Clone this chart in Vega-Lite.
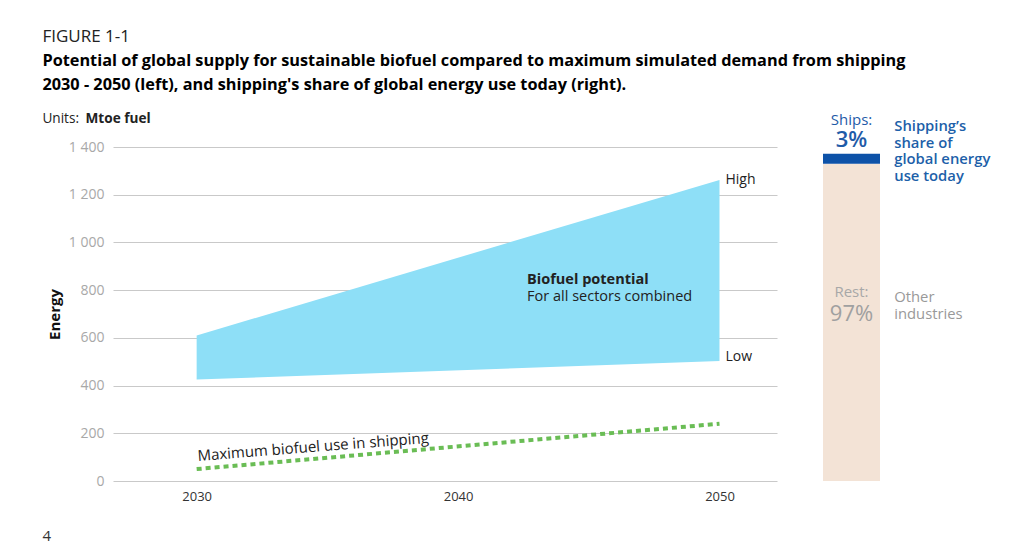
{
  "$schema": "https://vega.github.io/schema/vega-lite/v6.json",
  "padding": {"left": 42, "top": 27, "right": 5, "bottom": 5},
  "background": "white",
  "config": {"font": "Open Sans", "view": {"stroke": null}, "concat": {"spacing": 46}},
  "title": {
    "text": "FIGURE 1-1",
    "subtitle": ["Potential of global supply for sustainable biofuel compared to maximum simulated demand from shipping", "2030 - 2050 (left), and shipping's share of global energy use today (right)."],
    "anchor": "start", "frame": "bounds",
    "fontSize": 17, "fontWeight": "normal", "color": "#222",
    "subtitleFontSize": 16.3, "subtitleFontWeight": "bold", "subtitleColor": "#000",
    "subtitleLineHeight": 24, "subtitlePadding": 7, "offset": 18
  },
  "hconcat": [
    {
      "width": 664, "height": 334,
      "layer": [
        {
          "data": {"values": [{"year": 2030, "low": 425, "high": 610}, {"year": 2050, "low": 503, "high": 1262}]},
          "mark": {"type": "area", "color": "#8edff7", "opacity": 1},
          "encoding": {
            "x": {"field": "year", "type": "quantitative", "scale": {"domain": [2026.8, 2052.2], "nice": false, "zero": false},
              "axis": {"title": null, "values": [2030, 2040, 2050], "format": "d", "labelFontSize": 13, "labelColor": "#333", "labelPadding": 9, "ticks": false, "domain": false, "grid": false}},
            "y": {"field": "high", "type": "quantitative", "scale": {"domain": [0, 1400], "nice": false},
              "axis": {"title": "Energy", "titleFontSize": 15, "titleFontWeight": "bold", "titleColor": "#111", "titlePadding": 6,
                "values": [0, 200, 400, 600, 800, 1000, 1200, 1400], "labelExpr": "replace(format(datum.value, ','), ',', ' ')",
                "labelFontSize": 14, "labelColor": "#a8a8a8", "labelPadding": 9, "ticks": false, "domain": false,
                "grid": true, "gridColor": "#c9c9c9", "gridWidth": 1}},
            "y2": {"field": "low"}
          }
        },
        {
          "data": {"values": [{"year": 2030, "value": 50}, {"year": 2050, "value": 240}]},
          "mark": {"type": "line", "color": "#6abd55", "strokeWidth": 4, "strokeDash": [5, 4]},
          "encoding": {"x": {"field": "year", "type": "quantitative"}, "y": {"field": "value", "type": "quantitative"}}
        },
        {
          "data": {"values": [{}]},
          "mark": {"type": "text", "text": "Units:", "align": "left", "baseline": "middle", "fontSize": 13.6, "color": "#222"},
          "encoding": {"x": {"datum": 2024.1}, "y": {"datum": 1517}}
        },
        {
          "data": {"values": [{}]},
          "mark": {"type": "text", "text": "Mtoe fuel", "align": "left", "baseline": "middle", "fontSize": 13.6, "fontWeight": "bold", "color": "#222"},
          "encoding": {"x": {"datum": 2025.75}, "y": {"datum": 1517}}
        },
        {
          "data": {"values": [{}]},
          "mark": {"type": "text", "text": "4", "align": "left", "baseline": "middle", "fontSize": 15, "color": "#333"},
          "encoding": {"x": {"datum": 2024.1}, "y": {"datum": -230}}
        },
        {
          "data": {"values": [{}]},
          "mark": {"type": "text", "text": "High", "align": "left", "baseline": "middle", "fontSize": 14, "color": "#222", "dx": 6},
          "encoding": {"x": {"datum": 2050}, "y": {"datum": 1262}}
        },
        {
          "data": {"values": [{}]},
          "mark": {"type": "text", "text": "Low", "align": "left", "baseline": "middle", "fontSize": 14, "color": "#222", "dx": 6},
          "encoding": {"x": {"datum": 2050}, "y": {"datum": 520}}
        },
        {
          "data": {"values": [{}]},
          "mark": {"type": "text", "text": "Biofuel potential", "align": "left", "baseline": "middle", "fontSize": 14.5, "fontWeight": "bold", "color": "#222"},
          "encoding": {"x": {"datum": 2042.64}, "y": {"datum": 842}}
        },
        {
          "data": {"values": [{}]},
          "mark": {"type": "text", "text": "For all sectors combined", "align": "left", "baseline": "middle", "fontSize": 14.5, "color": "#222"},
          "encoding": {"x": {"datum": 2042.64}, "y": {"datum": 771}}
        },
        {
          "data": {"values": [{}]},
          "mark": {"type": "text", "text": "Maximum biofuel use in shipping", "align": "left", "baseline": "alphabetic", "fontSize": 15, "color": "#222", "angle": -4.5},
          "encoding": {"x": {"datum": 2030.05}, "y": {"datum": 84}}
        }
      ]
    },
    {
      "width": 171, "height": 334,
      "layer": [
        {
          "data": {"values": [{"group": "Rest", "start": 0, "end": 97}, {"group": "Ships", "start": 97, "end": 100}]},
          "mark": {"type": "rect"},
          "encoding": {
            "x": {"datum": 0, "type": "quantitative", "scale": {"domain": [0, 3], "nice": false}, "axis": null},
            "x2": {"datum": 1},
            "y": {"field": "start", "type": "quantitative", "scale": {"domain": [0, 102.1], "nice": false}, "axis": null},
            "y2": {"field": "end"},
            "color": {"field": "group", "type": "nominal", "scale": {"domain": ["Rest", "Ships"], "range": ["#f3e3d6", "#0d52a8"]}, "legend": null}
          }
        },
        {
          "data": {"values": [{}]},
          "mark": {"type": "text", "text": "Ships:", "align": "center", "baseline": "middle", "fontSize": 15, "color": "#1f5ba8"},
          "encoding": {"x": {"datum": 0.5}, "y": {"datum": 110.4}}
        },
        {
          "data": {"values": [{}]},
          "mark": {"type": "text", "text": "3%", "align": "center", "baseline": "middle", "fontSize": 22, "fontWeight": 600, "color": "#1f5ba8"},
          "encoding": {"x": {"datum": 0.5}, "y": {"datum": 104.3}}
        },
        {
          "data": {"values": [{}]},
          "mark": {"type": "text", "text": ["Shipping’s", "share of", "global energy", "use today"], "align": "left", "baseline": "alphabetic", "lineHeight": 16.7, "fontSize": 14.8, "fontWeight": 600, "color": "#1d5fa9"},
          "encoding": {"x": {"datum": 1.25}, "y": {"datum": 107}}
        },
        {
          "data": {"values": [{}]},
          "mark": {"type": "text", "text": "Rest:", "align": "center", "baseline": "middle", "fontSize": 15, "color": "#a8a8a8"},
          "encoding": {"x": {"datum": 0.5}, "y": {"datum": 57.8}}
        },
        {
          "data": {"values": [{}]},
          "mark": {"type": "text", "text": "97%", "align": "center", "baseline": "middle", "fontSize": 22, "color": "#a0a0a0"},
          "encoding": {"x": {"datum": 0.5}, "y": {"datum": 51.2}}
        },
        {
          "data": {"values": [{}]},
          "mark": {"type": "text", "text": ["Other", "industries"], "align": "left", "baseline": "alphabetic", "lineHeight": 16.7, "fontSize": 14.8, "color": "#999999"},
          "encoding": {"x": {"datum": 1.25}, "y": {"datum": 54.7}}
        }
      ]
    }
  ]
}
